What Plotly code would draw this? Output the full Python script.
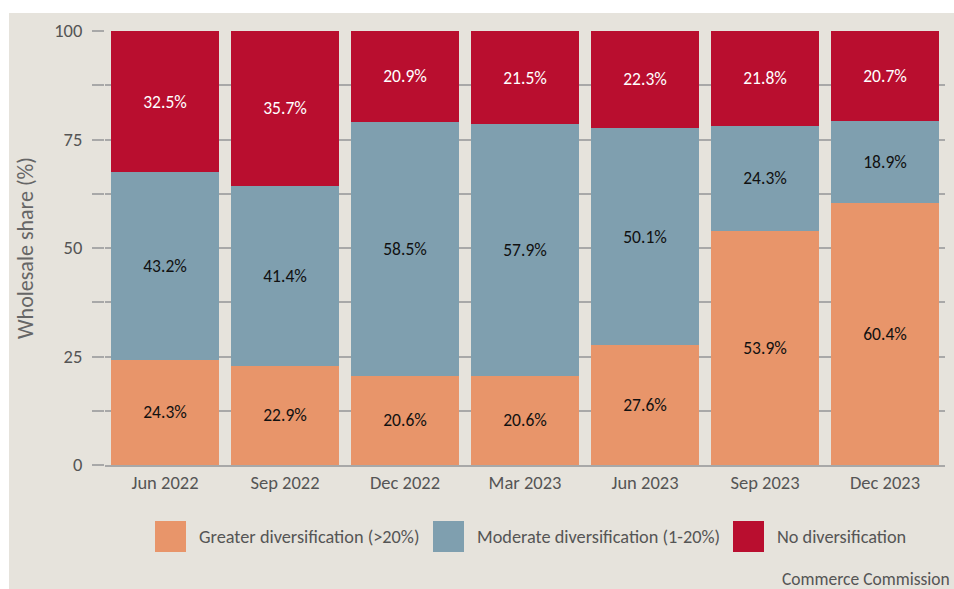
import plotly.graph_objects as go

quarters = ["Jun 2022", "Sep 2022", "Dec 2022", "Mar 2023", "Jun 2023", "Sep 2023", "Dec 2023"]
greater = [24.3, 22.9, 20.6, 20.6, 27.6, 53.9, 60.4]
moderate = [43.2, 41.4, 58.5, 57.9, 50.1, 24.3, 18.9]
none_div = [32.5, 35.7, 20.9, 21.5, 22.3, 21.8, 20.7]
series_names = ["Greater diversification (>20%)", "Moderate diversification (1-20%)", "No diversification"]
colors = ["#E8956A", "#7F9FAF", "#B90E2F"]
label_colors = ["#111111", "#111111", "#FFFFFF"]
y_ticks = [0, 12.5, 25, 37.5, 50, 62.5, 75, 87.5, 100]
y_ticklabels = ["0", "", "25", "", "50", "", "75", "", "100"]

FONT = "Carlito, Calibri, 'Liberation Sans Narrow', 'Open Sans', sans-serif"
W, H = 954, 589
L, R, T, B = 105, 9, 31, 124
PW, PH = W - L - R, H - T - B

def px(x):
    return (x - L) / PW

def py(y):
    return (H - B - y) / PH

fig = go.Figure()
for name, vals, col, lc in zip(series_names, [greater, moderate, none_div], colors, label_colors):
    fig.add_trace(go.Bar(
        x=quarters, y=vals, name=name, marker=dict(color=col, line=dict(width=0)),
        texttemplate="%{y:.1f}%", textposition="inside", insidetextanchor="middle",
        textfont=dict(color=lc, size=17.5, family=FONT), showlegend=False,
        constraintext="none",
    ))

shapes = [dict(type="rect", xref="paper", yref="paper", x0=px(9), x1=px(960), y0=py(595), y1=py(13),
               fillcolor="#E6E3DC", line=dict(width=0), layer="below")]
annotations = []
leg_sq = [155, 433, 733]
for i, (name, col) in enumerate(zip(series_names, colors)):
    x0 = leg_sq[i]
    shapes.append(dict(type="rect", xref="paper", yref="paper", x0=px(x0), x1=px(x0 + 31),
                       y0=py(552), y1=py(521), fillcolor=col, line=dict(width=0)))
    annotations.append(dict(text=name, xref="paper", yref="paper", x=px(x0 + 42), y=py(537),
                            xanchor="left", yanchor="middle", showarrow=False,
                            font=dict(size=18.3, color="#555555", family=FONT)))
annotations.append(dict(text="Commerce Commission", xref="paper", yref="paper", x=px(952), y=py(579),
                        xanchor="right", yanchor="middle", showarrow=False,
                        font=dict(size=17.5, color="#555555", family=FONT)))

fig.update_layout(
    width=W, height=H, margin=dict(l=L, r=R, t=T, b=B),
    paper_bgcolor="white", plot_bgcolor="rgba(0,0,0,0)",
    barmode="stack", bargap=0.1,
    font=dict(family=FONT, color="#555555"),
    shapes=shapes, annotations=annotations,
    xaxis=dict(showgrid=False, showline=True, linecolor="#A8A8A8", linewidth=2,
               tickfont=dict(size=18.5, color="#555555"), ticks="", fixedrange=True),
    yaxis=dict(range=[0, 100], tickvals=y_ticks, ticktext=y_ticklabels, showgrid=True,
               gridcolor="#A8A8A8", gridwidth=2, ticks="outside", ticklen=12, tickwidth=2,
               tickcolor="#A8A8A8", zeroline=False, showline=False, ticklabelstandoff=6,
               tickfont=dict(size=18.5, color="#555555"), fixedrange=True,
               title=dict(text="Wholesale share (%)", font=dict(size=22, color="#666666"), standoff=14)),
)

fig.write_html("out.html", config={"displayModeBar": False})
with open("out.html", "r", encoding="utf-8") as f:
    html = f.read()
html = html.replace("<head>", "<head><style>html,body{margin:0;padding:0;overflow:hidden;}</style>", 1)
with open("out.html", "w", encoding="utf-8") as f:
    f.write(html)
